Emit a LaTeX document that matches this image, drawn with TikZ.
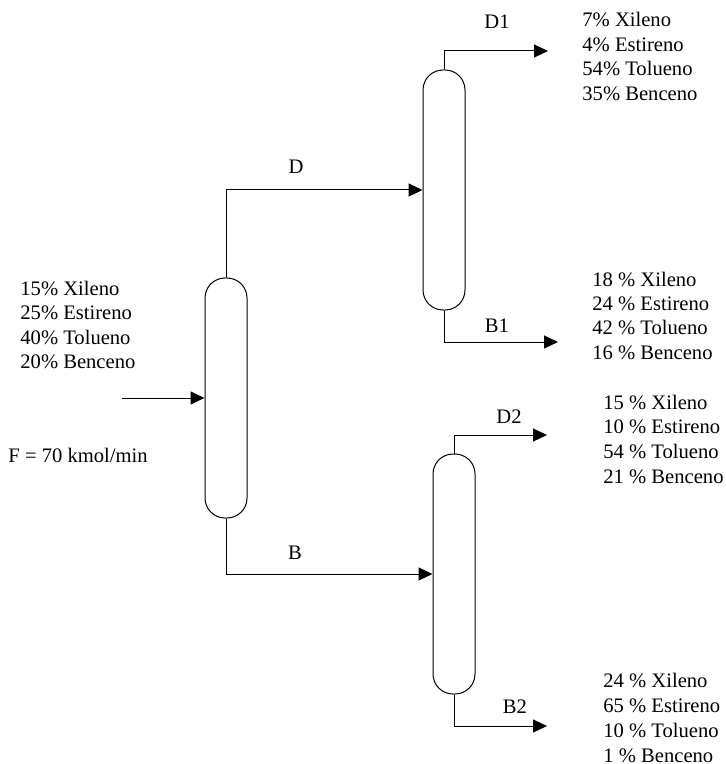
\documentclass[tikz,border=0pt]{standalone}
\usepackage{fontspec}
\setmainfont{Liberation Serif}
\usetikzlibrary{arrows.meta}
\begin{document}
\begin{tikzpicture}[x=0.5pt,y=-0.5pt,
  lbl/.style={inner sep=0pt,font=\fontsize{10.3}{12.25}\selectfont},
  column/.style={draw,line width=0.5pt,rectangle,rounded corners=10pt,inner sep=0pt,
    minimum width=21pt,minimum height=120pt},
  flow/.style={line width=0.5pt,-{Triangle[length=7pt,width=6.5pt]}}]
\useasboundingbox (0,0) rectangle (726,764);
% columns
\node[column] (c1) at (226,398) {};
\node[column] (c2) at (444,190) {};
\node[column] (c3) at (454,574) {};
% free ends
\coordinate (fin) at (122,398);
\coordinate (d1end) at (548,51);
\coordinate (b1end) at (558,342);
\coordinate (d2end) at (547,435);
\coordinate (b2end) at (547,726);
% streams
\draw[flow] (fin) -- (fin -| c1.west);
\draw[flow] (c1.north) |- (c2.west);
\draw[flow] (c1.south) |- (c3.west);
\draw[flow] (c2.north) |- (d1end);
\draw[flow] (c2.south) |- (b1end);
\draw[flow] (c3.north) |- (d2end);
\draw[flow] (c3.south) |- (b2end);
% stream labels
\node[lbl,anchor=base] (lD) at (296,174) {D};
\node[lbl,anchor=base] (lB) at (295,559) {B};
\node[lbl,anchor=base] (lD1) at (497,29) {D1};
\node[lbl,anchor=base] (lB1) at (497,332) {B1};
\node[lbl,anchor=base] (lD2) at (509,423) {D2};
\node[lbl,anchor=base] (lB2) at (515,713) {B2};
\node[lbl,anchor=base west] (lF) at (8,462) {F = 70 kmol/min};
% compositions
\foreach \t [count=\i] in {{15\% Xileno},{25\% Estireno},{40\% Tolueno},{20\% Benceno}}
  \node[lbl,anchor=base west] (ft\i) at (20,{295+24.6*(\i-1)}) {\t};
\foreach \t [count=\i] in {{7\% Xileno},{4\% Estireno},{54\% Tolueno},{35\% Benceno}}
  \node[lbl,anchor=base west] (d1t\i) at (582,{27+24.4*(\i-1)}) {\t};
\foreach \t [count=\i] in {{18 \% Xileno},{24 \% Estireno},{42 \% Tolueno},{16 \% Benceno}}
  \node[lbl,anchor=base west] (b1t\i) at (592,{286+24.4*(\i-1)}) {\t};
\foreach \t [count=\i] in {{15 \% Xileno},{10 \% Estireno},{54 \% Tolueno},{21 \% Benceno}}
  \node[lbl,anchor=base west] (d2t\i) at (603,{409+24.9*(\i-1)}) {\t};
\foreach \t [count=\i] in {{24 \% Xileno},{65 \% Estireno},{10 \% Tolueno},{1 \% Benceno}}
  \node[lbl,anchor=base west] (b2t\i) at (603,{687+25*(\i-1)}) {\t};
\end{tikzpicture}
\end{document}
